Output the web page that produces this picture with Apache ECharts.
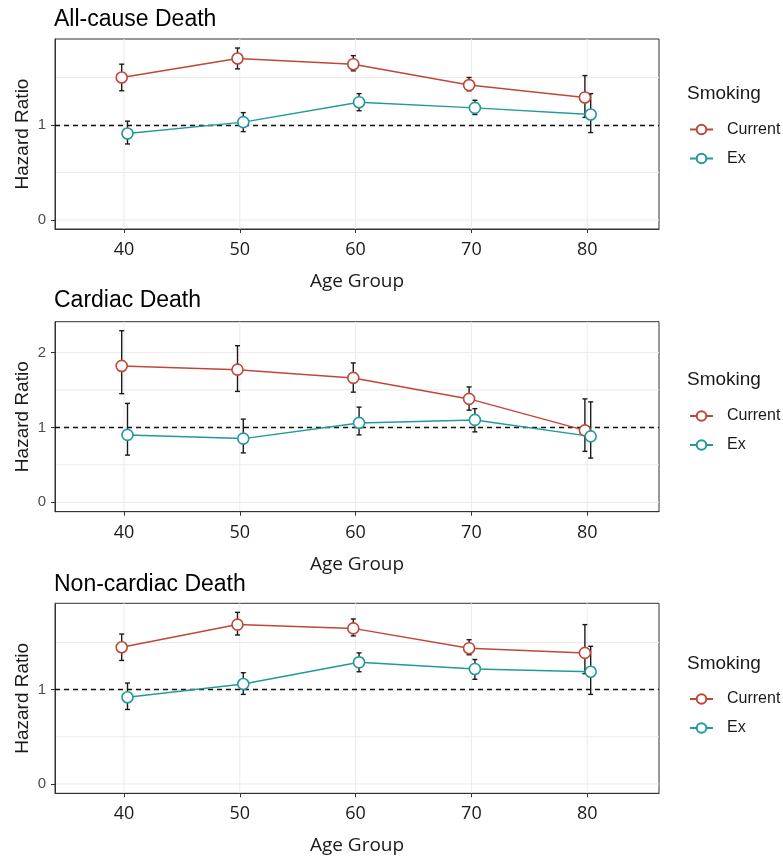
<!DOCTYPE html>
<html><head><meta charset="utf-8">
<script src="https://cdn.jsdelivr.net/npm/echarts@6/dist/echarts.min.js"></script>
<style>html,body{margin:0;padding:0;background:#fff}#c{width:783px;height:859px}</style>
</head><body><div id="c"></div>
<script>
// ---------- data ----------
const ages = [40, 50, 60, 70, 80];
const xTicks = [40, 50, 60, 70, 80];
const panelTitles = ['All-cause Death', 'Cardiac Death', 'Non-cardiac Death'];
const seriesNames = ['Current', 'Ex'];
const legendTitle = 'Smoking';
const xAxisTitle = 'Age Group';
const yAxisTitle = 'Hazard Ratio';

// All-cause death
const allCur   = [1.50, 1.70, 1.64, 1.42, 1.29];
const allCurLo = [1.36, 1.59, 1.57, 1.36, 1.08];
const allCurHi = [1.64, 1.81, 1.73, 1.50, 1.52];
const allEx    = [0.91, 1.03, 1.24, 1.18, 1.11];
const allExLo  = [0.80, 0.93, 1.15, 1.11, 0.92];
const allExHi  = [1.04, 1.13, 1.33, 1.26, 1.33];

// Cardiac death
const cardCur   = [1.82, 1.77, 1.66, 1.38, 0.96];
const cardCurLo = [1.45, 1.48, 1.47, 1.23, 0.68];
const cardCurHi = [2.29, 2.09, 1.86, 1.54, 1.38];
const cardEx    = [0.90, 0.85, 1.06, 1.10, 0.88];
const cardExLo  = [0.63, 0.66, 0.90, 0.94, 0.59];
const cardExHi  = [1.32, 1.11, 1.27, 1.25, 1.34];

// Non-cardiac death
const ncCur   = [1.45, 1.69, 1.65, 1.44, 1.39];
const ncCurLo = [1.31, 1.58, 1.57, 1.37, 1.17];
const ncCurHi = [1.59, 1.82, 1.75, 1.53, 1.69];
const ncEx    = [0.92, 1.06, 1.29, 1.22, 1.19];
const ncExLo  = [0.79, 0.95, 1.19, 1.11, 0.95];
const ncExHi  = [1.07, 1.18, 1.39, 1.32, 1.46];

const yTicks1 = [0, 1];
const yTicks2 = [0, 1, 2];
const yTicks3 = [0, 1];
const yGrid1 = [0, 0.5, 1, 1.5];
const yGrid2 = [0, 0.5, 1, 1.5, 2];
const yGrid3 = [0, 0.5, 1, 1.5];
const refValue = 1;

// ---------- layout / style ----------
const COLORS = ['#c0463a', '#22999b'];
const DODGE = [-0.2, 0.3];
const SANS = '"Liberation Sans", Arial, sans-serif';
const XFONT = '"Open Sans", sans-serif';
const panels = [
  { top: 39, ymin: -0.095, ymax: 1.905, titleY: 19, smokY: 95, legTop: 121,
    cur: allCur, curLo: allCurLo, curHi: allCurHi, ex: allEx, exLo: allExLo, exHi: allExHi, yTicks: yTicks1, yGrid: yGrid1 },
  { top: 321.7, ymin: -0.125, ymax: 2.41, titleY: 300.5, smokY: 381.5, legTop: 407.5,
    cur: cardCur, curLo: cardCurLo, curHi: cardCurHi, ex: cardEx, exLo: cardExLo, exHi: cardExHi, yTicks: yTicks2, yGrid: yGrid2 },
  { top: 603.3, ymin: -0.099, ymax: 1.916, titleY: 584, smokY: 665, legTop: 690.5,
    cur: ncCur, curLo: ncCurLo, curHi: ncCurHi, ex: ncEx, exLo: ncExLo, exHi: ncExHi, yTicks: yTicks3, yGrid: yGrid3 }
];
const XMIN = 34.04, XMAX = 86.2;

const grids = [], xAxes = [], yAxes = [], series = [], legends = [], graphics = [];

function hLineRender(params, api) {
  const cs = params.coordSys;
  const y = api.coord([api.value(0), api.value(1)])[1];
  return { type: 'line', silent: true, shape: { x1: cs.x, y1: y, x2: cs.x + cs.width, y2: y },
           style: { stroke: '#ebebeb', lineWidth: 1 } };
}
function vLineRender(params, api) {
  const cs = params.coordSys;
  const x = api.coord([api.value(0), api.value(1)])[0];
  return { type: 'line', silent: true, shape: { x1: x, y1: cs.y, x2: x, y2: cs.y + cs.height },
           style: { stroke: '#ebebeb', lineWidth: 1 } };
}
function errRender(params, api) {
  const x = api.value(0);
  const p1 = api.coord([x, api.value(1)]);
  const p2 = api.coord([x, api.value(2)]);
  const w = 2.5;
  const st = { stroke: '#1a1a1a', lineWidth: 1.4 };
  return { type: 'group', silent: true, children: [
    { type: 'line', shape: { x1: p1[0], y1: p1[1], x2: p2[0], y2: p2[1] }, style: st },
    { type: 'line', shape: { x1: p1[0] - w, y1: p1[1], x2: p1[0] + w, y2: p1[1] }, style: st },
    { type: 'line', shape: { x1: p2[0] - w, y1: p2[1], x2: p2[0] + w, y2: p2[1] }, style: st }
  ]};
}

panels.forEach((p, i) => {
  grids.push({ left: 55, right: 124, top: p.top, height: 190, show: true,
               borderColor: '#333', borderWidth: 1, backgroundColor: 'transparent' });
  xAxes.push({
    type: 'value', gridIndex: i, min: XMIN, max: XMAX,
    splitLine: { show: false },
    axisLine: { show: true, onZero: false, lineStyle: { color: '#333', width: 1 } },
    axisTick: { show: true, customValues: xTicks, length: 4, lineStyle: { color: '#333' } },
    axisLabel: { customValues: xTicks, fontSize: 18, color: '#1a1a1a', fontFamily: XFONT, margin: 12 },
    name: xAxisTitle, nameLocation: 'middle', nameGap: 43, nameMoveOverlap: false,
    nameTextStyle: { fontSize: 19, color: '#1a1a1a', fontFamily: XFONT }
  });
  yAxes.push({
    type: 'value', gridIndex: i, min: p.ymin, max: p.ymax,
    splitLine: { show: false },
    axisLine: { show: true, onZero: false, lineStyle: { color: '#333', width: 1 } },
    axisTick: { show: true, customValues: p.yTicks, length: 4, lineStyle: { color: '#333' } },
    axisLabel: { customValues: p.yTicks, fontSize: 15, color: '#4d4d4d', fontFamily: SANS, margin: 9 },
    name: yAxisTitle, nameLocation: 'middle', nameGap: 23, nameMoveOverlap: false,
    nameTextStyle: { fontSize: 19, color: '#1a1a1a', fontFamily: SANS }
  });
  // grid lines
  series.push({ type: 'custom', xAxisIndex: i, yAxisIndex: i, z: 0, silent: true,
    renderItem: hLineRender, data: p.yGrid.map(v => [xTicks[0], v]) });
  series.push({ type: 'custom', xAxisIndex: i, yAxisIndex: i, z: 0, silent: true,
    renderItem: vLineRender, data: xTicks.map(v => [v, p.yGrid[0]]) });
  const groups = [[p.cur, p.curLo, p.curHi], [p.ex, p.exLo, p.exHi]];
  groups.forEach((g, k) => {
    series.push({ type: 'custom', xAxisIndex: i, yAxisIndex: i, z: 3, silent: true,
      renderItem: errRender, encode: { x: 0, y: [1, 2] },
      data: ages.map((a, j) => [a + DODGE[k], g[1][j], g[2][j]]) });
  });
  groups.forEach((g, k) => {
    const s = {
      type: 'line', name: seriesNames[k], xAxisIndex: i, yAxisIndex: i, z: 4,
      data: ages.map((a, j) => [a + DODGE[k], g[0][j]]),
      symbol: 'circle', symbolSize: 11, showSymbol: true,
      itemStyle: { color: '#fff', borderColor: COLORS[k], borderWidth: 1.6 },
      lineStyle: { color: COLORS[k], width: 1.5 },
      emphasis: { disabled: true }, silent: true
    };
    if (k === 0) {
      s.markLine = { silent: true, symbol: 'none', label: { show: false }, z: 2,
        lineStyle: { type: [5, 4], color: '#111', width: 1.4 },
        emphasis: { disabled: true },
        data: [{ yAxis: refValue }] };
    }
    series.push(s);
  });
  legends.push({
    orient: 'vertical', left: 689, top: p.legTop, padding: 0,
    itemWidth: 23, itemHeight: 12, itemGap: 12,
    selectedMode: false, data: seriesNames,
    textStyle: { fontSize: 16, color: '#1a1a1a', fontFamily: SANS, lineHeight: 17, padding: [0, 0, 0, 9] }
  });
  graphics.push({ type: 'text', left: 54, top: p.titleY - 11,
    style: { text: panelTitles[i], font: '23px ' + SANS, fill: '#000' } });
  graphics.push({ type: 'text', left: 687, top: p.smokY - 11,
    style: { text: legendTitle, font: '19px ' + SANS, fill: '#1a1a1a' } });
});

const chart = echarts.init(document.getElementById('c'), null, { renderer: 'canvas' });
chart.setOption({
  animation: false,
  backgroundColor: '#fff',
  grid: grids, xAxis: xAxes, yAxis: yAxes, series: series,
  legend: legends, graphic: graphics
});
</script></body></html>
